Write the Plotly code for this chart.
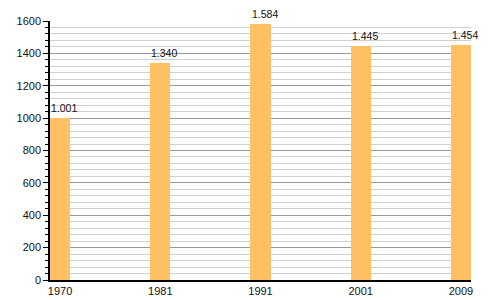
import plotly.graph_objects as go

years = ["1970", "1981", "1991", "2001", "2009"]
population = [1001, 1340, 1584, 1445, 1454]
labels = [f"{v:,}".replace(",", ".") for v in population]

fig = go.Figure(go.Bar(
    x=years, y=population,
    width=0.2,
    marker=dict(color="#FFC064", line=dict(width=0)),
    hoverinfo="x+y",
))

for i, (v, lab) in enumerate(zip(population, labels)):
    fig.add_annotation(x=i, y=v, xref="x", yref="y", text=lab, showarrow=False,
                       xanchor="left", xshift=-11, yanchor="bottom", yshift=2,
                       font=dict(family="Liberation Sans, Arial, sans-serif", size=10.5, color="#111"))

fig.update_layout(
    width=500, height=300,
    margin=dict(l=50, r=29, t=21, b=20),
    plot_bgcolor="white", paper_bgcolor="white",
    showlegend=False,
    font=dict(family="Liberation Sans, Arial, sans-serif", size=11, color="#111"),
    bargap=0,
)
fig.update_xaxes(
    type="category", range=[-0.1, 4.1],
    showline=True, linecolor="black", linewidth=1.5,
    ticks="", showgrid=False, tickfont=dict(size=11), automargin=False,
)
fig.update_yaxes(
    range=[0, 1600], dtick=200, tick0=0,
    showline=True, linecolor="black", linewidth=1.5,
    ticks="outside", ticklen=5, tickcolor="black",
    showgrid=True, gridcolor="#999", gridwidth=1,
    minor=dict(dtick=40, showgrid=True, gridcolor="#d0d0d0", gridwidth=1,
               ticks="outside", ticklen=3, tickcolor="black"),
    zeroline=False, tickfont=dict(size=11), automargin=False,
)

fig.write_html("out.html")
